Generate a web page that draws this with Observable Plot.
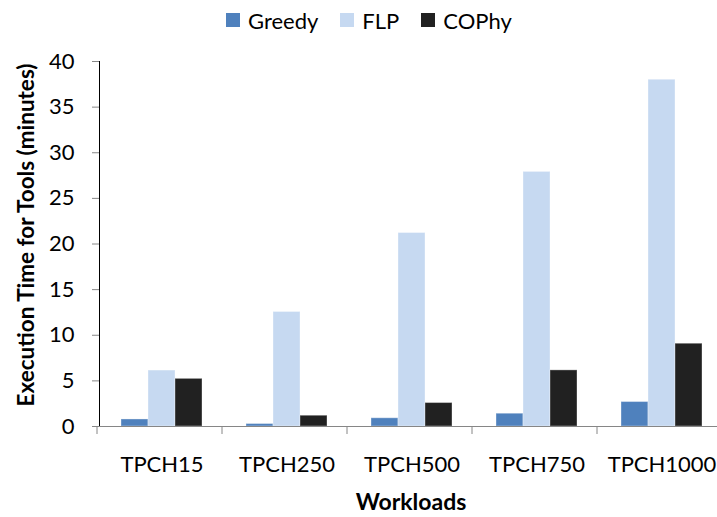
<!DOCTYPE html>
<html>
<head>
<meta charset="utf-8">
<script src="https://cdn.jsdelivr.net/npm/d3@7"></script>
<script src="https://cdn.jsdelivr.net/npm/@observablehq/plot@0.6"></script>
<style>
  html, body { margin: 0; padding: 0; background: #fff; overflow: hidden; }
  #chart { position: relative; width: 717px; height: 517px; font-family: Lato, "Open Sans", sans-serif; }
  #legend { position: absolute; left: 226px; top: 4px; height: 32px; display: flex; align-items: center; font-size: 22px; color: #000; }
  #legend .item { display: flex; align-items: center; margin-right: 22px; }
  #legend .swatch { width: 14px; height: 14px; margin-right: 8px; }
  #plot { position: absolute; left: 0; top: 40px; }
</style>
</head>
<body>
<div id="chart">
  <div id="legend"></div>
  <div id="plot"></div>
</div>
<script>
// Workloads on the x axis, the three index-tuning tools as series
const workloads = ["TPCH15", "TPCH250", "TPCH500", "TPCH750", "TPCH1000"];
const series = ["Greedy", "FLP", "COPhy"];
const greedyMinutes = [0.77, 0.27, 0.9, 1.4, 2.68];
const flpMinutes = [6.13, 12.55, 21.2, 27.9, 38.0];
const cophyMinutes = [5.22, 1.18, 2.57, 6.15, 9.07];
const seriesColors = ["#4F81BD", "#C6D9F1", "#212121"];
const yTicks = [0, 5, 10, 15, 20, 25, 30, 35, 40];

const valuesBySeries = {Greedy: greedyMinutes, FLP: flpMinutes, COPhy: cophyMinutes};
const rows = [];
workloads.forEach((w, i) => {
  series.forEach(s => rows.push({workload: w, tool: s, minutes: valuesBySeries[s][i]}));
});

// Legend above the chart
const legend = d3.select("#legend");
series.forEach((s, i) => {
  const item = legend.append("div").attr("class", "item");
  item.append("div").attr("class", "swatch").style("background", seriesColors[i]);
  item.append("span").text(s);
});

const axisGray = "#868686";

const plot = Plot.plot({
  width: 717,
  height: 477,
  marginLeft: 97,
  marginRight: -9,
  marginTop: 21,
  marginBottom: 91,
  style: {fontFamily: "Lato, 'Open Sans', sans-serif", fontSize: "22px", color: "#000", background: "#fff", overflow: "visible"},
  facet: {data: rows, x: "workload"},
  fx: {
    domain: workloads,
    paddingInner: 0,
    paddingOuter: 0,
    tickSize: 0,
    tickPadding: 30,
    axis: "bottom",
    label: null
  },
  x: {domain: series, paddingInner: 0, paddingOuter: 0.77, axis: null},
  y: {
    domain: [0, 40],
    ticks: yTicks,
    tickSize: 7,
    tickPadding: 18,
    line: true,
    label: null
  },
  color: {domain: series, range: seriesColors},
  marks: [
    Plot.barY(rows, {x: "tool", y: "minutes", fill: "tool", stroke: "#ffffff", strokeOpacity: 0.35, strokeWidth: 1}),
    Plot.ruleY([0], {stroke: axisGray})
  ]
});

document.getElementById("plot").appendChild(plot);

const svg = d3.select(plot);
// Axis lines and ticks in grey, labels stay black
svg.selectAll('[aria-label^="y-axis"] line, [aria-label^="y-axis"] path').attr("stroke", axisGray);

// Boundary tick marks between workload categories, from the fx scale
const fx = plot.scale("fx");
const y = plot.scale("y");
const y0 = y.range[0];
const bounds = d3.range(workloads.length + 1).map(i => fx.range[0] + i * fx.step);
svg.append("g")
  .selectAll("line")
  .data(bounds)
  .join("line")
  .attr("x1", d => d).attr("x2", d => d)
  .attr("y1", y0).attr("y2", y0 + 8)
  .attr("stroke", axisGray);

// Axis titles
svg.append("text")
  .attr("x", 411).attr("y", 470)
  .attr("text-anchor", "middle")
  .attr("font-weight", "bold")
  .attr("font-size", 23)
  .text("Workloads");

svg.append("text")
  .attr("transform", "translate(34,195) rotate(-90)")
  .attr("text-anchor", "middle")
  .attr("font-weight", "bold")
  .attr("font-size", 22.5)
  .text("Execution Time for Tools (minutes)");
</script>
</body>
</html>
